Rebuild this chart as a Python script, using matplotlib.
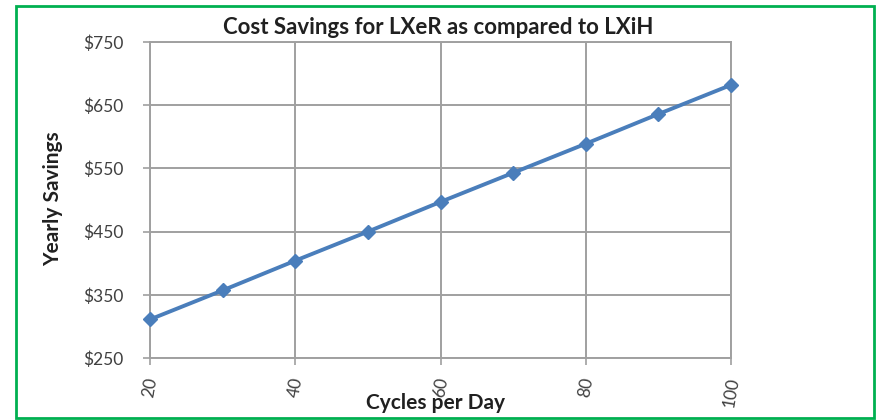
import matplotlib.pyplot as plt
from matplotlib.patches import Rectangle

# Data
cycles = [20, 30, 40, 50, 60, 70, 80, 90, 100]
savings = [311, 357, 404, 450, 497, 543, 589, 636, 682]
xticks = [20, 40, 60, 80, 100]
yticks = [250, 350, 450, 550, 650, 750]

plt.rcParams['font.family'] = ['Lato', 'DejaVu Sans']

fig = plt.figure(figsize=(8.77, 4.2), dpi=100)
W, H = 877, 420
ax = fig.add_axes([150 / W, 1 - 358 / H, (731 - 150) / W, (358 - 42) / H])

ax.plot(cycles, savings, color='#4a7ebb', lw=2.8, marker='D', ms=7,
        zorder=3, clip_on=False)

ax.set_xlim(20, 100)
ax.set_ylim(250, 750)
ax.set_xticks(xticks)
ax.set_yticks(yticks)
ax.set_yticklabels(['$%d' % v for v in yticks])
ax.tick_params(axis='x', rotation=80, labelsize=12.5, length=5, width=1.2, pad=8)
ax.tick_params(axis='y', labelsize=12.5, length=5, width=1.2, pad=14)
for lab in ax.get_xticklabels() + ax.get_yticklabels():
    lab.set_color('#404040')
ax.tick_params(axis='both', color='#a0a0a0')
ax.grid(True, color='#a0a0a0', lw=1.4)
for s in ax.spines.values():
    s.set_color('#a0a0a0')
    s.set_linewidth(1.4)

fig.text(438 / W, 1 - 28 / H, 'Cost Savings for LXeR as compared to LXiH',
         ha='center', va='center', fontsize=16, fontweight='bold', color='#202020')
fig.text(53 / W, 1 - 199 / H, 'Yearly Savings', rotation=90, ha='center', va='center',
         fontsize=15, fontweight='bold', color='#202020')
fig.text(435 / W, 1 - 403 / H, 'Cycles per Day', ha='center', va='center',
         fontsize=15, fontweight='bold', color='#202020')

# green frame around the chart
fig.patches.append(Rectangle((16 / W, 2 / H), (874 - 16) / W, (414 - 2) / H,
                             transform=fig.transFigure, fill=False,
                             edgecolor='#00b050', lw=2))

fig.savefig('out.png', dpi=100)
